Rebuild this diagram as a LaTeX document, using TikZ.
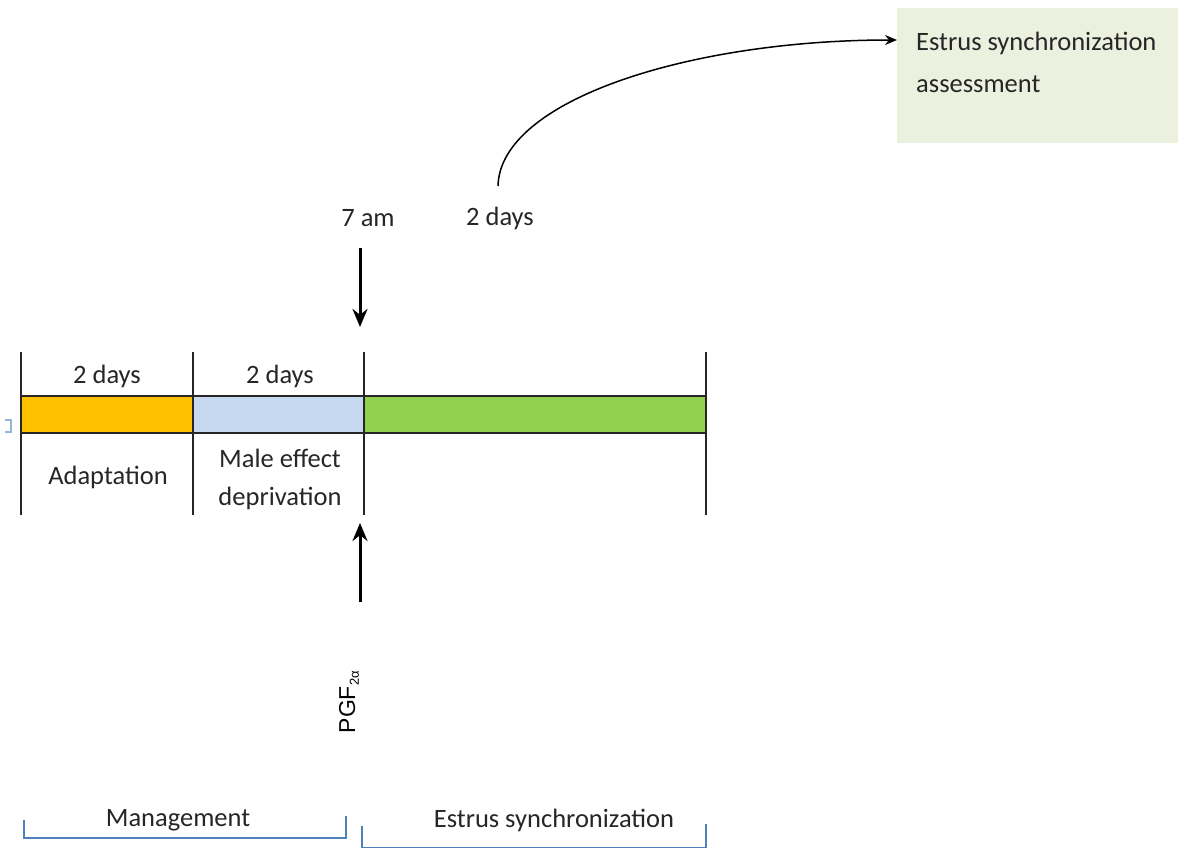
\documentclass[tikz,border=0pt]{standalone}
\usepackage{fontspec}
\setmainfont{Carlito}
\newfontfamily\arialf{Liberation Sans}
\usetikzlibrary{arrows.meta}
\definecolor{orangebar}{HTML}{FFC000}
\definecolor{bluebar}{HTML}{C6D9F0}
\definecolor{greenbar}{HTML}{92D050}
\definecolor{boxfill}{HTML}{EBF1DE}
\definecolor{brk}{HTML}{4F81BD}
\tikzset{
  lbl/.style={font=\fontsize{26.5}{32}\selectfont, inner sep=0pt, text=black!85},
  tick/.style={line width=1.6pt, black!85},
  bigarrow/.style={line width=3pt, -{Stealth[length=18pt,width=15pt]}},
  bracket/.style={draw=brk, line width=1.2pt},
  seg/.style={draw=black!85, line width=1.6pt}
}
\begin{document}
\begin{tikzpicture}[x=1pt,y=-1pt]
\useasboundingbox (0,0) rectangle (1178,848);
% bar segments
\path[seg, fill=orangebar] (21,396) rectangle (193,433);
\path[seg, fill=bluebar] (193,396) rectangle (364,433);
\path[seg, fill=greenbar] (364,396) rectangle (706,433);
% ticks
\foreach \x in {21,193,364,706} \draw[tick] (\x,352) -- (\x,515);
% small mark at left
\draw[brk!60, line width=1.5pt] (5,420) -- (11,420) -- (11,432) -- (5,432);
% labels
\node[lbl] (d1) at (107,376) {2 days};
\node[lbl] (d2) at (280,376) {2 days};
\node[lbl] (ad) at (108,477) {Adaptation};
\node[lbl] (me1) at (280,458) {Male effect};
\node[lbl] (me2) at (280,498) {deprivation};
\node[lbl] (am) at (368,218) {7 am};
\node[lbl] (d3) at (500,218) {2 days};
% arrows
\coordinate (a1s) at (360,248);
\coordinate (a1e) at (360,327);
\draw[bigarrow] (a1s) -- (a1e);
\coordinate (a2s) at (360,602);
\coordinate (a2e) at (360,523);
\draw[bigarrow] (a2s) -- (a2e);
\node[inner sep=0pt, rotate=90, font=\arialf\fontsize{23}{28}\selectfont] (pgf) at (349,702) {PGF\textsubscript{\fontsize{13}{15}\selectfont 2α}};
% assessment box
\node[fill=boxfill, minimum width=281pt, minimum height=135pt, inner sep=0pt, anchor=north west] (box) at (897,8) {};
\node[lbl] (bt1) at (916,43) [anchor=west] {Estrus synchronization};
\node[lbl] (bt2) at (916,84) [anchor=west] {assessment};
\coordinate (cs) at (498,186);
\draw[line width=1.5pt, -{Stealth[length=12pt,width=10pt]}] (cs) .. controls (500,100) and (690,40) .. (box.north west |- 0,40);
% bottom brackets
\draw[bracket] (24,820) -- (24,838) -- (346,838) -- (346,816);
\node[lbl] (mg) at (178,820) {Management};
\draw[bracket] (362,826) -- (362,848) -- (706,848) -- (706,824);
\node[lbl] (es) at (554,820) {Estrus synchronization};
\end{tikzpicture}
\end{document}
